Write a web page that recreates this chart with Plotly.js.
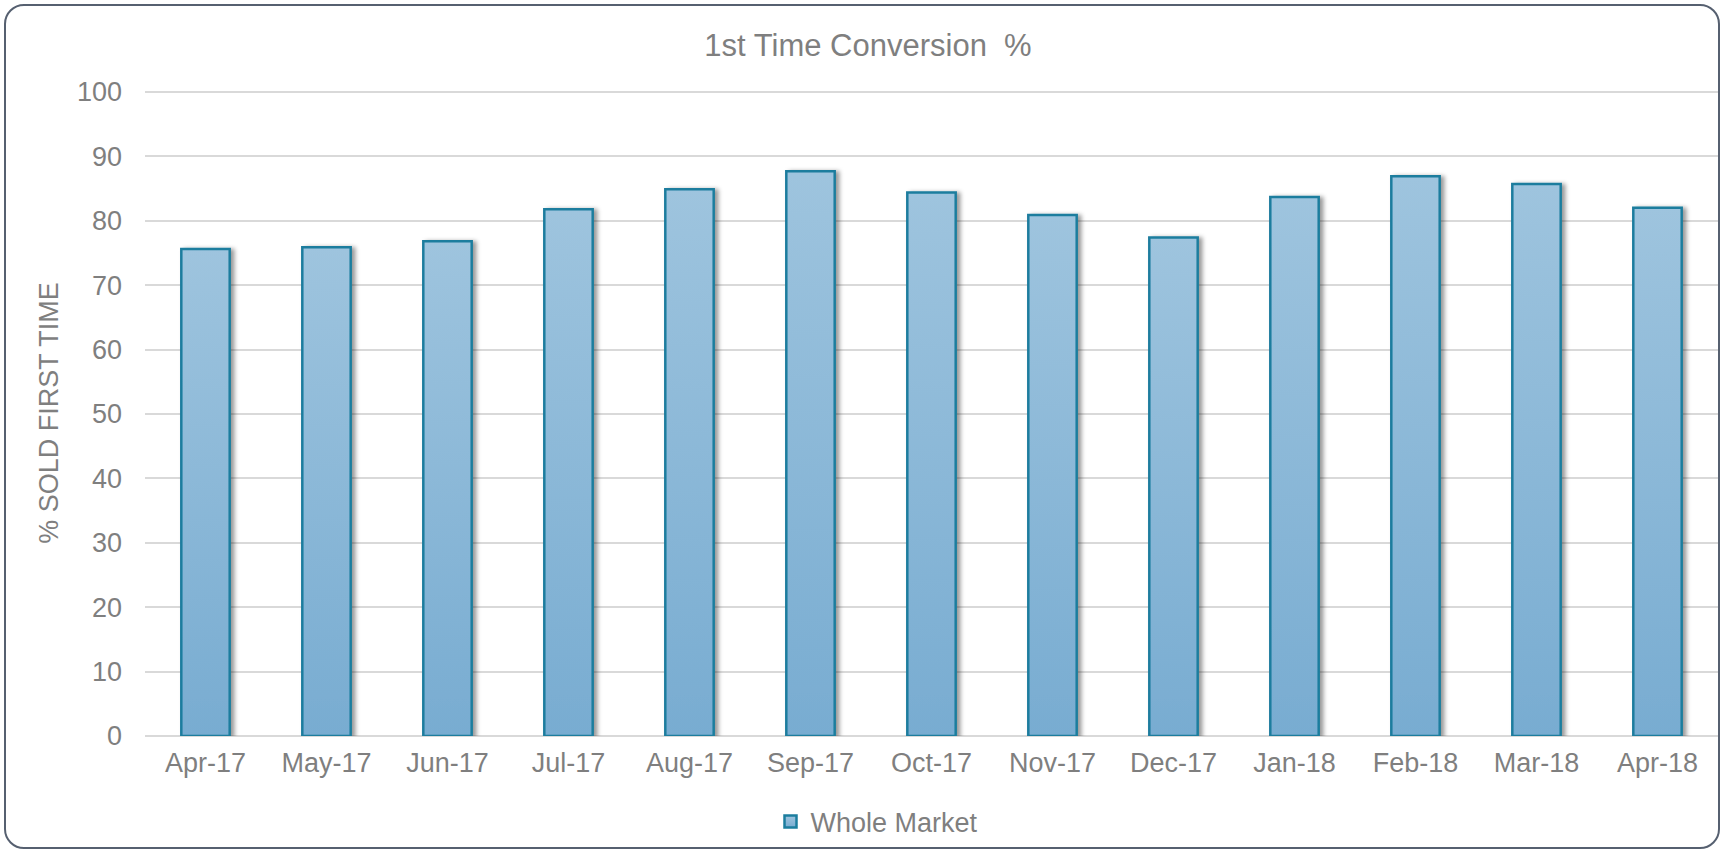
<!DOCTYPE html>
<html>
<head>
<meta charset="utf-8">
<script src="https://cdn.plot.ly/plotly-3.0.1.min.js"></script>
<style>
  html, body { margin: 0; padding: 0; background: #ffffff; }
  #wrap { position: relative; width: 1727px; height: 855px; overflow: hidden; }
  #chart { position: absolute; left: 0; top: 0; width: 1727px; height: 855px; }
  #frame { position: absolute; left: 4px; top: 4px; width: 1716px; height: 845px;
           border: 2px solid #566070; border-radius: 20px; pointer-events: none; box-sizing: border-box; }
</style>
</head>
<body>
<div id="wrap">
  <div id="chart"></div>
  <div id="frame"></div>
</div>
<script>
const categories = ["Apr-17", "May-17", "Jun-17", "Jul-17", "Aug-17", "Sep-17", "Oct-17",
                    "Nov-17", "Dec-17", "Jan-18", "Feb-18", "Mar-18", "Apr-18"];
const wholeMarket = [75.6, 75.9, 76.8, 81.8, 84.9, 87.7, 84.4, 80.9, 77.4, 83.7, 86.9, 85.7, 82.0];
const seriesName = "Whole Market";
const chartTitle = "1st Time Conversion  %";
const yTitle = "% SOLD FIRST TIME";
const yTickVals = [0, 10, 20, 30, 40, 50, 60, 70, 80, 90, 100];

const FONT = '"Liberation Sans", Arial, Helvetica, sans-serif';
const GREY = '#7f7f7f';

const trace = {
  type: 'bar',
  x: categories,
  y: wholeMarket,
  name: seriesName,
  showlegend: true,
  marker: { color: '#8cb9d8', line: { color: '#1b7d9e', width: 2.5 } },
  hoverinfo: 'x+y'
};

const layout = {
  width: 1727,
  height: 855,
  paper_bgcolor: 'rgba(0,0,0,0)',
  plot_bgcolor: 'rgba(0,0,0,0)',
  margin: { l: 145, r: 9, t: 90, b: 119, autoexpand: false },
  font: { family: FONT, color: GREY, size: 27 },
  title: {
    text: chartTitle,
    font: { family: FONT, color: GREY, size: 31 },
    xref: 'container', x: 868 / 1727, xanchor: 'center',
    yref: 'container', y: 1 - 45 / 855, yanchor: 'middle'
  },
  bargap: 0.60,
  xaxis: {
    type: 'category',
    showgrid: false,
    showline: false,
    zeroline: false,
    ticks: '',
    tickfont: { family: FONT, color: GREY, size: 27 },
    ticklabelstandoff: 8,
    automargin: false
  },
  yaxis: {
    range: [0, 100.3],
    tickvals: yTickVals,
    showgrid: true,
    gridcolor: '#d9d9d9',
    gridwidth: 2,
    zeroline: true,
    zerolinecolor: '#d9d9d9',
    zerolinewidth: 2,
    showline: false,
    ticks: '',
    tickfont: { family: FONT, color: GREY, size: 27 },
    ticklabelstandoff: 22,
    automargin: false,
    title: { text: yTitle, font: { family: FONT, color: GREY, size: 27 }, standoff: 10 }
  },
  showlegend: true,
  legend: {
    orientation: 'h',
    x: (877 - 145) / (1718 - 145), xanchor: 'center',
    y: (736 - 822) / 646, yanchor: 'middle',
    font: { family: FONT, color: GREY, size: 27 },
    bgcolor: 'rgba(0,0,0,0)'
  }
};

Plotly.newPlot('chart', [trace], layout, { displayModeBar: false, staticPlot: true }).then(function (gd) {
  const svgNS = 'http://www.w3.org/2000/svg';
  const svg = gd.querySelector('svg.main-svg');
  let defs = svg.querySelector('defs');
  if (!defs) { defs = document.createElementNS(svgNS, 'defs'); svg.insertBefore(defs, svg.firstChild); }
  const grad = document.createElementNS(svgNS, 'linearGradient');
  grad.setAttribute('id', 'barGrad');
  grad.setAttribute('x1', '0'); grad.setAttribute('y1', '0');
  grad.setAttribute('x2', '0'); grad.setAttribute('y2', '1');
  [['0', '#9ec4de'], ['1', '#78acd1']].forEach(function (s) {
    const st = document.createElementNS(svgNS, 'stop');
    st.setAttribute('offset', s[0]); st.setAttribute('stop-color', s[1]);
    grad.appendChild(st);
  });
  defs.appendChild(grad);
  const filt = document.createElementNS(svgNS, 'filter');
  filt.setAttribute('id', 'barShadow');
  filt.setAttribute('x', '-20%'); filt.setAttribute('y', '-5%');
  filt.setAttribute('width', '150%'); filt.setAttribute('height', '110%');
  const ds = document.createElementNS(svgNS, 'feDropShadow');
  ds.setAttribute('dx', '3.5'); ds.setAttribute('dy', '1');
  ds.setAttribute('stdDeviation', '2');
  ds.setAttribute('flood-color', '#000000'); ds.setAttribute('flood-opacity', '0.4');
  filt.appendChild(ds);
  defs.appendChild(filt);
  gd.querySelectorAll('.barlayer .trace.bars .point path').forEach(function (p) {
    p.style.fill = 'url(#barGrad)';
    p.setAttribute('filter', 'url(#barShadow)');
  });
  gd.querySelectorAll('.legend .legendpoints path').forEach(function (p) {
    p.style.fill = 'url(#barGrad)';
  });
});
</script>
</body>
</html>
